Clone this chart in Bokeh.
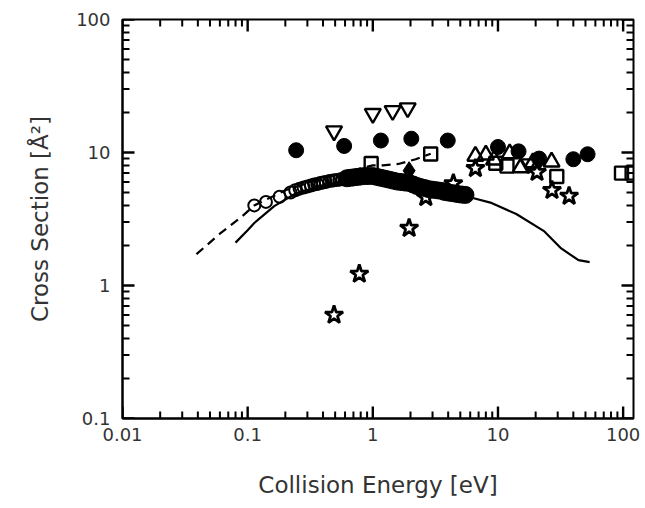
import math
from bokeh.plotting import figure
from bokeh.models import Range1d, FixedTicker, CustomJSTickFormatter
from bokeh.embed import file_html
from bokeh.resources import INLINE

# ---------------- data ----------------
# theory (solid line)
theory_x = [0.08, 0.1, 0.113, 0.14, 0.163, 0.24, 0.42, 0.8, 1.5, 2.86, 4.5, 6.3, 8.7, 14, 23.5, 32, 44, 54]
theory_y = [2.1, 2.6, 2.95, 3.5, 3.95, 4.9, 5.75, 6.3, 5.95, 5.15, 4.75, 4.55, 4.2, 3.45, 2.55, 1.9, 1.55, 1.5]

# second calculation (dashed line)
dash_x = [0.039, 0.06, 0.09, 0.113, 0.2, 0.3, 0.5, 0.8, 1.0, 1.2, 1.6, 2.2, 2.9]
dash_y = [1.72, 2.45, 3.3, 4.0, 5.2, 5.9, 6.8, 7.6, 8.0, 8.0, 8.2, 8.9, 9.8]

# open circles (low-energy beam data)
oc_x = [0.113, 0.14, 0.18, 0.22, 0.24, 0.26, 0.28, 0.30, 0.32, 0.34, 0.36, 0.38,
        0.40, 0.42, 0.45, 0.48, 0.51, 0.54, 0.57, 0.60, 0.64]
oc_y = [4.0, 4.25, 4.65, 5.0, 5.2, 5.35, 5.45, 5.55, 5.65, 5.75, 5.8, 5.9,
        5.95, 6.0, 6.1, 6.15, 6.2, 6.25, 6.3, 6.35, 6.4]

# dense filled band
fb_x = [0.62, 0.66, 0.70, 0.75, 0.8, 0.86, 0.92, 1.0, 1.08, 1.16, 1.25, 1.35, 1.45,
        1.56, 1.68, 1.8, 1.95, 2.1, 2.25, 2.4, 2.6, 2.8, 3.0, 3.25, 3.5, 3.75, 4.0,
        4.3, 4.6, 4.9, 5.2, 5.5]
fb_y = [6.4, 6.45, 6.5, 6.55, 6.6, 6.65, 6.65, 6.65, 6.55, 6.45, 6.35, 6.25, 6.15,
        6.05, 6.0, 5.95, 5.9, 5.75, 5.6, 5.5, 5.4, 5.3, 5.25, 5.2, 5.15, 5.05, 5.0,
        4.95, 4.9, 4.85, 4.82, 4.8]

# large filled circles
fc_x = [0.244, 0.59, 1.16, 2.03, 3.97, 10.0, 14.6, 21.3, 40, 52]
fc_y = [10.4, 11.2, 12.3, 12.7, 12.3, 11.0, 10.2, 9.0, 8.9, 9.7]

# open down-triangles
dt_x = [0.49, 1.0, 1.44, 1.9, 17.5]
dt_y = [14.5, 19.6, 20.6, 21.6, 8.2]

# open up-triangles
ut_x = [6.6, 8.0, 9.3, 12.4, 15.2, 19.0, 26.8]
ut_y = [9.4, 9.6, 8.8, 9.8, 7.7, 8.4, 8.5]

# open squares
sq_x = [0.97, 2.9, 9.6, 11.8, 29.5, 97, 118]
sq_y = [8.27, 9.75, 8.3, 7.9, 6.6, 7.0, 7.0]

# open stars
st_x = [0.49, 0.78, 1.95, 2.65, 4.4, 6.6, 20.5, 27, 37]
st_y = [0.6, 1.22, 2.7, 4.6, 5.85, 7.6, 7.1, 5.2, 4.7]

# filled diamond
dm_x = [1.95]
dm_y = [7.3]

# axes
x_lim = [0.01, 121]
y_lim = [0.1, 100]
x_ticks = [0.01, 0.1, 1, 10, 100]
x_tick_labels = ["0.01", "0.1", "1", "10", "100"]
y_ticks = [0.1, 1, 10, 100]
y_tick_labels = ["0.1", "1", "10", "100"]
x_title = "Collision Energy [eV]"
y_title = "Cross Section [Å²]"

# ---------------- figure ----------------
FONT = "DejaVu Sans"
TXT = "#333333"
W, H = 645, 508
BL, BR, BT, BB = 122, 12, 19, 90

p = figure(width=W, height=H, x_axis_type="log", y_axis_type="log",
           x_range=Range1d(*x_lim), y_range=Range1d(*y_lim),
           output_backend="svg", toolbar_location=None,
           min_border_left=BL, min_border_right=BR, min_border_top=BT,
           min_border_bottom=BB)
p.grid.visible = False
p.outline_line_color = "black"
p.outline_line_width = 2
p.outline_line_alpha = 1.0


def minors(lo_exp, hi_exp, lim):
    vals = [m * 10.0 ** e for e in range(lo_exp, hi_exp) for m in range(2, 10)]
    return [v for v in vals if lim[0] < v < lim[1]]


x_minor = minors(-2, 3, x_lim)
y_minor = minors(-1, 2, y_lim)


def label_fmt(tv, tl):
    return CustomJSTickFormatter(
        args=dict(tvals=tv, tlabels=tl),
        code="""
        for (let i = 0; i < tvals.length; i++) {
            if (Math.abs(Math.log10(tvals[i]) - Math.log10(tick)) < 1e-6) return tlabels[i];
        }
        return '';
        """)


def style_axis(ax):
    ax.axis_line_width = 2
    ax.axis_line_color = "black"
    ax.major_tick_in = 0
    ax.major_tick_out = 0
    ax.minor_tick_in = 0
    ax.minor_tick_out = 0
    ax.major_label_text_font = FONT
    ax.major_label_text_font_size = "18px"
    ax.major_label_text_color = TXT
    ax.axis_label_text_font = FONT
    ax.axis_label_text_font_size = "23px"
    ax.axis_label_text_font_style = "normal"
    ax.axis_label_text_color = TXT


xb = p.xaxis[0]
xb.ticker = FixedTicker(ticks=x_ticks)
xb.formatter = label_fmt(x_ticks, x_tick_labels)
xb.axis_label = x_title
style_axis(xb)
xb.major_label_standoff = 9
xb.axis_label_standoff = 28

yl = p.yaxis[0]
yl.ticker = FixedTicker(ticks=y_ticks)
yl.formatter = label_fmt(y_ticks, y_tick_labels)
yl.axis_label = y_title
style_axis(yl)
yl.major_label_standoff = 12
yl.axis_label_standoff = 20

# inward tick marks on all four sides, as short segments from each frame edge
frame_w = W - BL - BR
frame_h = H - BT - BB
dpx = math.log10(x_lim[1] / x_lim[0]) / frame_w
dpy = math.log10(y_lim[1] / y_lim[0]) / frame_h
MAJ, MIN = 12, 7

for tick_list, length, lw in ((x_ticks, MAJ, 2.4), (x_minor, MIN, 2.0)):
    n = len(tick_list)
    k = 10 ** (length * dpy)
    p.segment(x0=tick_list, y0=[y_lim[0]] * n, x1=tick_list, y1=[y_lim[0] * k] * n,
              line_color="black", line_width=lw)
    p.segment(x0=tick_list, y0=[y_lim[1]] * n, x1=tick_list, y1=[y_lim[1] / k] * n,
              line_color="black", line_width=lw)
for tick_list, length, lw in ((y_ticks, MAJ, 2.4), (y_minor, MIN, 2.0)):
    n = len(tick_list)
    k = 10 ** (length * dpx)
    p.segment(x0=[x_lim[0]] * n, y0=tick_list, x1=[x_lim[0] * k] * n, y1=tick_list,
              line_color="black", line_width=lw)
    p.segment(x0=[x_lim[1]] * n, y0=tick_list, x1=[x_lim[1] / k] * n, y1=tick_list,
              line_color="black", line_width=lw)

# lines
p.line(theory_x, theory_y, line_color="black", line_width=2.2)
p.line(dash_x, dash_y, line_color="black", line_width=2.2, line_dash="9 6")

# markers
p.scatter(oc_x, oc_y, marker="circle", size=12, fill_color=None,
          line_color="black", line_width=2)
p.scatter(fb_x, fb_y, marker="circle", size=17, fill_color="black",
          line_color="black", line_width=1)
p.scatter(fc_x, fc_y, marker="circle", size=15, fill_color="black",
          line_color="black", line_width=1)
p.scatter(dt_x, dt_y, marker="inverted_triangle", size=16, fill_color=None,
          line_color="black", line_width=2.4)
p.scatter(ut_x, ut_y, marker="triangle", size=16, fill_color=None,
          line_color="black", line_width=2.4)
p.scatter(sq_x, sq_y, marker="square", size=13, fill_color=None,
          line_color="black", line_width=2.4)
p.scatter(st_x, st_y, marker="star", size=19, fill_color=None,
          line_color="black", line_width=2.8)
p.scatter(dm_x, dm_y, marker="diamond", size=18, fill_color="black",
          line_color="black", line_width=1)

open("out.html", "w").write(file_html(p, INLINE))
